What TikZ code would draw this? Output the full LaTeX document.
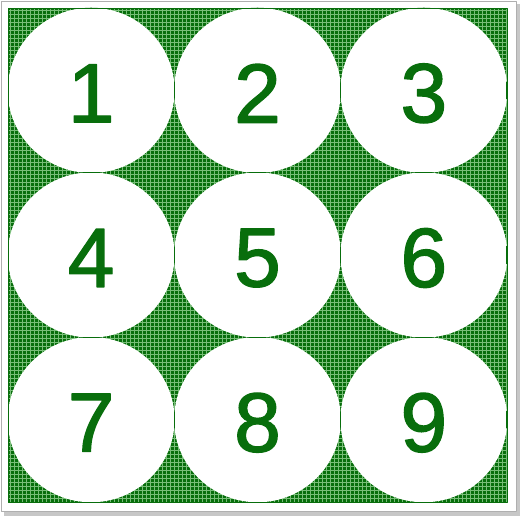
\documentclass[tikz,border=0pt]{standalone}
\usepackage{fontspec}
\setmainfont{Liberation Sans}
\newfontfamily\digitfont[FakeBold=1.6]{Liberation Sans}
\definecolor{dotgreen}{RGB}{8,110,12}
\definecolor{gapgreen}{RGB}{120,190,120}
\definecolor{framegray}{RGB}{175,175,175}
\begin{document}
\begin{tikzpicture}[x=1pt, y=-1pt, line join=round, line cap=round]
\tikzset{digit/.style={text=dotgreen, font=\digitfont\fontsize{84}{84}\selectfont, inner sep=0pt}}
\tikzset{cellline/.style={dotgreen, line width=1pt}}
\def\xmin{8}\def\xmax{507}\def\ymin{8}\def\ymax{502}
\def\cw{166.33}\def\ch{164.67}
\useasboundingbox (0,0) rectangle (520,516);
% frame with shadow
\fill[black!22] (4,4) rectangle (520,516);
\fill[white] (1,1) rectangle (517,512);
\draw[framegray] (1.5,1.5) rectangle (516.5,511.5);
% dotted board
\fill[dotgreen] (\xmin,\ymin) rectangle (\xmax,\ymax);
\begin{scope}
\clip (\xmin,\ymin) rectangle (\xmax,\ymax);
\foreach \x in {10,14,...,506}\draw[gapgreen, line width=0.9pt, line cap=butt] (\x,\ymin)--(\x,\ymax);
\foreach \y in {10,14,...,502}\draw[gapgreen, line width=0.9pt, line cap=butt] (\xmin,\y)--(\xmax,\y);
\end{scope}
% white discs
\foreach \r in {0,1,2}\foreach \c in {0,1,2}
  \fill[white] ({\xmin+\cw*(\c+0.5)},{\ymin+\ch*(\r+0.5)}) ellipse[x radius=83.4, y radius=82.6];
% cell lines, only where the discs meet
\begin{scope}
\clip ({\xmin+\cw*0.5},{\ymin+\ch*0.5}) ellipse[x radius=83.4, y radius=82.6]
  ({\xmin+\cw*1.5},{\ymin+\ch*0.5}) ellipse[x radius=83.4, y radius=82.6]
  ({\xmin+\cw*2.5},{\ymin+\ch*0.5}) ellipse[x radius=83.4, y radius=82.6]
  ({\xmin+\cw*0.5},{\ymin+\ch*1.5}) ellipse[x radius=83.4, y radius=82.6]
  ({\xmin+\cw*1.5},{\ymin+\ch*1.5}) ellipse[x radius=83.4, y radius=82.6]
  ({\xmin+\cw*2.5},{\ymin+\ch*1.5}) ellipse[x radius=83.4, y radius=82.6]
  ({\xmin+\cw*0.5},{\ymin+\ch*2.5}) ellipse[x radius=83.4, y radius=82.6]
  ({\xmin+\cw*1.5},{\ymin+\ch*2.5}) ellipse[x radius=83.4, y radius=82.6]
  ({\xmin+\cw*2.5},{\ymin+\ch*2.5}) ellipse[x radius=83.4, y radius=82.6];
\foreach \c in {0,1,2,3}\draw[cellline] ({\xmin+\cw*\c},\ymin)--({\xmin+\cw*\c},\ymax);
\foreach \r in {0,1,2,3}\draw[cellline] (\xmin,{\ymin+\ch*\r})--(\xmax,{\ymin+\ch*\r});
\end{scope}
% board edge
\draw[dotgreen, line width=0.6pt] (\xmin,\ymin) rectangle (\xmax,\ymax);
% digits
\foreach \r in {0,1,2}\foreach \c in {0,1,2}{
  \pgfmathtruncatemacro\n{3*\r+\c+1}
  \node[digit] (d\n) at ({\xmin+\cw*(\c+0.5)},{\ymin+\ch*(\r+0.5)+3}) {\n};
}
\end{tikzpicture}
\end{document}
